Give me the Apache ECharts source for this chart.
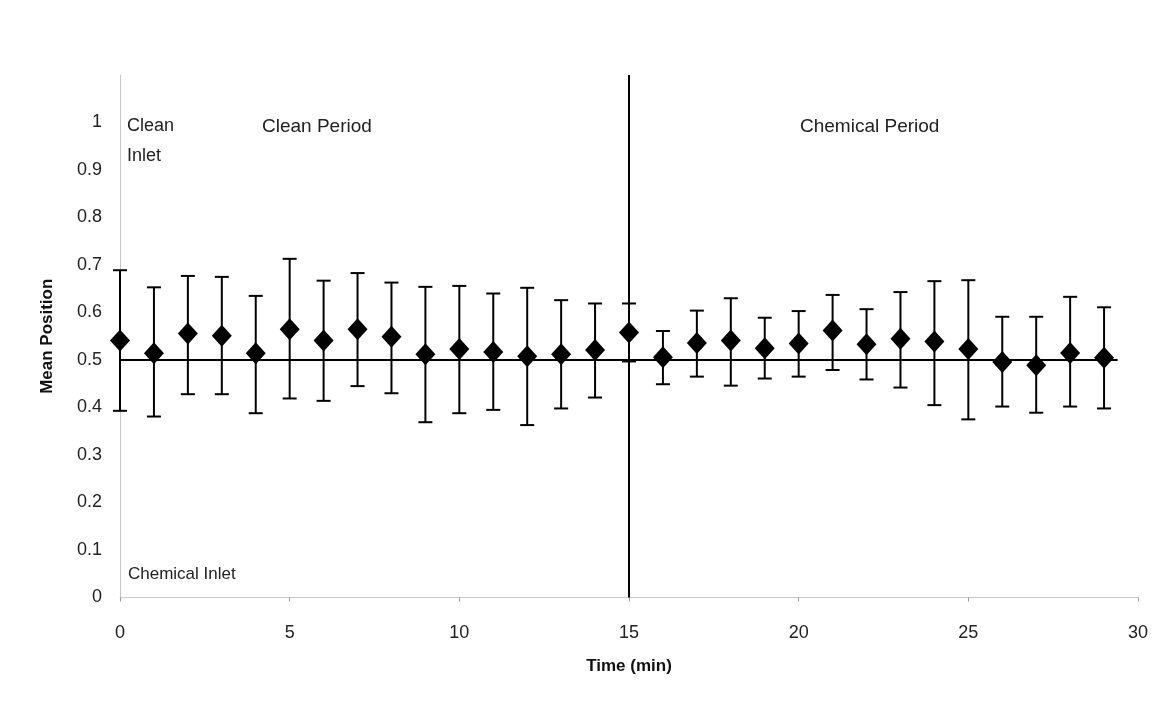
<!DOCTYPE html>
<html>
<head>
<meta charset="utf-8">
<script src="https://cdn.jsdelivr.net/npm/echarts@6/dist/echarts.min.js"></script>
<style>
  html, body { margin: 0; padding: 0; background: #fff; }
  #main { width: 1158px; height: 713px; }
</style>
</head>
<body>
<div id="main"></div>
<script>
// data
var times = [0,1,2,3,4,5,6,7,8,9,10,11,12,13,14,15,16,17,18,19,20,21,22,23,24,25,26,27,28,29];
var means = [0.541,0.514,0.556,0.551,0.514,0.565,0.541,0.565,0.549,0.512,0.523,0.517,0.508,0.512,0.521,
             0.558,0.506,0.536,0.541,0.525,0.535,0.562,0.533,0.545,0.539,0.523,0.496,0.489,0.515,0.505];
var upper = [0.689,0.653,0.677,0.675,0.635,0.713,0.667,0.683,0.663,0.654,0.656,0.640,0.652,0.626,0.619,
             0.619,0.561,0.604,0.630,0.589,0.603,0.637,0.607,0.643,0.666,0.668,0.591,0.591,0.633,0.611];
var lower = [0.393,0.381,0.428,0.428,0.388,0.419,0.414,0.445,0.430,0.369,0.388,0.395,0.363,0.398,0.421,
             0.497,0.449,0.465,0.446,0.461,0.465,0.479,0.459,0.442,0.405,0.375,0.402,0.389,0.402,0.398];
var midLine = [[0, 0.5], [29.4, 0.5]];
var periodSplit = 15;

var font = '"Liberation Sans", Arial, sans-serif';

var points = times.map(function (t, i) { return [t, means[i]]; });
var bars = times.map(function (t, i) { return [t, lower[i], upper[i]]; });

var option = {
    backgroundColor: '#fff',
    animation: false,
    grid: { left: 120, right: 20, top: 75, bottom: 115.5 },
    xAxis: {
        type: 'value',
        min: 0, max: 30, interval: 5,
        name: 'Time (min)',
        nameLocation: 'middle',
        nameGap: 60,
        nameTextStyle: { fontFamily: font, fontSize: 17, fontWeight: 'bold', color: '#111' },
        axisLine: { lineStyle: { color: '#c8c8c8', width: 1 } },
        axisTick: { length: 4, lineStyle: { color: '#999' } },
        axisLabel: { fontFamily: font, fontSize: 18, color: '#222', margin: 27 },
        splitLine: { show: false }
    },
    yAxis: {
        type: 'value',
        min: 0, max: 1.1, interval: 0.1,
        name: 'Mean Position',
        nameLocation: 'middle',
        nameGap: 64,
        nameTextStyle: { fontFamily: font, fontSize: 17, fontWeight: 'bold', color: '#111' },
        axisLine: { show: true, lineStyle: { color: '#c8c8c8', width: 1 } },
        axisTick: { show: false },
        axisLabel: {
            fontFamily: font, fontSize: 18, color: '#222', margin: 18,
            formatter: function (v) {
                if (v > 1.05) return '';
                return String(Math.round(v * 10) / 10);
            }
        },
        splitLine: { show: false }
    },
    graphic: [
        { type: 'text', left: 127, top: 117, style: { text: 'Clean', font: '18px ' + font, fill: '#222' } },
        { type: 'text', left: 127, top: 147, style: { text: 'Inlet', font: '18px ' + font, fill: '#222' } },
        { type: 'text', left: 262, top: 117, style: { text: 'Clean Period', font: '19px ' + font, fill: '#222' } },
        { type: 'text', left: 800, top: 117, style: { text: 'Chemical Period', font: '19px ' + font, fill: '#222' } },
        { type: 'text', left: 128, top: 566, style: { text: 'Chemical Inlet', font: '17px ' + font, fill: '#222' } }
    ],
    series: [
        {
            type: 'line',
            data: midLine,
            symbol: 'none',
            lineStyle: { color: '#000', width: 2 },
            z: 1,
            markLine: {
                silent: true,
                symbol: 'none',
                label: { show: false },
                lineStyle: { color: '#000', width: 2, type: 'solid' },
                data: [{ xAxis: periodSplit }]
            }
        },
        {
            type: 'custom',
            data: bars,
            z: 2,
            renderItem: function (params, api) {
                var x = api.value(0);
                var lo = api.coord([x, api.value(1)]);
                var hi = api.coord([x, api.value(2)]);
                var hw = 7;
                var st = { stroke: '#000', lineWidth: 2 };
                return {
                    type: 'group',
                    children: [
                        { type: 'line', shape: { x1: lo[0], y1: lo[1], x2: hi[0], y2: hi[1] }, style: st },
                        { type: 'line', shape: { x1: hi[0] - hw, y1: hi[1], x2: hi[0] + hw, y2: hi[1] }, style: st },
                        { type: 'line', shape: { x1: lo[0] - hw, y1: lo[1], x2: lo[0] + hw, y2: lo[1] }, style: st }
                    ]
                };
            }
        },
        {
            type: 'scatter',
            data: points,
            symbol: 'diamond',
            symbolSize: [20, 22],
            itemStyle: { color: '#000', opacity: 1 },
            z: 3
        }
    ]
};

var myChart = echarts.init(document.getElementById('main'));
myChart.setOption(option);
</script>
</body>
</html>
